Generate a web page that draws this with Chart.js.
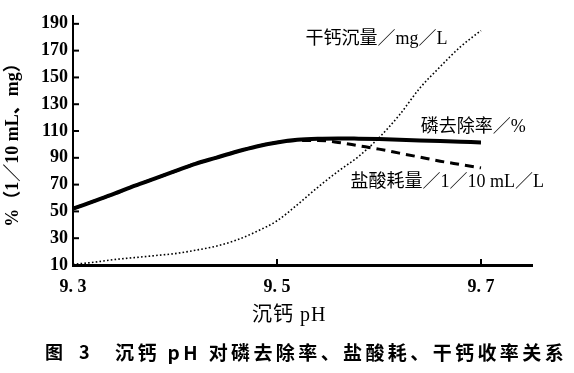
<!DOCTYPE html>
<html><head><meta charset="utf-8">
<script src="https://cdn.jsdelivr.net/npm/chart.js@4/dist/chart.umd.min.js"></script>
<style>
html,body{margin:0;padding:0;background:#fff;}
#wrap{position:relative;width:574px;height:373px;overflow:hidden;background:#fff;}
#c{position:absolute;left:0;top:0;}
.t{position:absolute;white-space:nowrap;color:#000;line-height:22px;}
#xt{left:252px;top:298px;font:20px 'Liberation Serif','Noto Sans CJK SC';letter-spacing:1px;}
#cap1{left:45px;top:338px;font:700 18px 'Noto Sans CJK SC';letter-spacing:6px;}
#cap2{left:115px;top:338px;font:700 19px 'Noto Sans CJK SC';letter-spacing:3.4px;}
</style></head><body>
<div id="wrap">
<canvas id="c" width="574" height="373"></canvas>
<div class="t" id="xt">沉钙 pH</div>
<div class="t" id="cap1">图 3</div>
<div class="t" id="cap2">沉钙 pH 对磷去除率、盐酸耗、干钙收率关系</div>
</div>
<script>
// ---- data ----
const phValues      = [9.30,9.32,9.34,9.36,9.38,9.40,9.42,9.44,9.46,9.48,9.50,9.52,9.54,9.56,9.58,9.60,9.62,9.64,9.66,9.68,9.70];
const removalRate   = [52,57.5,63,69,74.5,80,85.5,90,94.5,98.5,101.5,103.5,104.3,104.5,104.3,104,103.5,103,102.5,102,101.5];
const hclUse        = [52,57.5,63,69,74.5,80,85.5,90,94.5,98.5,101.5,103,103,101.5,99,96.5,93.5,90.5,87.5,85,82.5];
const calciumYield  = [10.5,12,14,15.5,17,18.5,21,24,28.5,35,43,55,68,80,91,105,122,142,158,173,185];
const xTickValues   = [9.3,9.5,9.7];
const xTickLabels   = ['9. 3','9. 5','9. 7'];
const yTickValues   = [10,30,50,70,90,110,130,150,170,190];
const seriesNames   = ['磷去除率／%','盐酸耗量／1／10 mL／L','干钙沉量／mg／L'];
const yAxisTitle    = '%（1／10 mL、mg）';

// label anchors (data coordinates) for the in-plot series names
const labelAnchors = [
  {text: seriesNames[0], x: 9.641, y: 112.5},
  {text: seriesNames[1], x: 9.572, y: 71.5},
  {text: seriesNames[2], x: 9.528, y: 178.5}
];

const pts = arr => phValues.map((x,i)=>({x, y: arr[i]}));

const decor = {
  id:'decor',
  afterDraw(chart){
    const {ctx, chartArea:a, scales:{x,y}} = chart;
    ctx.save();
    ctx.strokeStyle='#000'; ctx.lineWidth=2;
    y.ticks.forEach(t=>{
      if (t.value===y.min) return;
      const py=y.getPixelForValue(t.value);
      ctx.beginPath(); ctx.moveTo(a.left,py); ctx.lineTo(a.left+6,py); ctx.stroke();
    });
    x.ticks.forEach(t=>{
      if (t.value===x.min) return;
      const px=x.getPixelForValue(t.value);
      ctx.beginPath(); ctx.moveTo(px,a.bottom); ctx.lineTo(px,a.bottom-6); ctx.stroke();
    });
    ctx.fillStyle='#000';
    ctx.font="18px 'Liberation Serif','Noto Sans CJK SC'";
    ctx.textBaseline='middle'; ctx.textAlign='left';
    labelAnchors.forEach(l=>{
      ctx.fillText(l.text, x.getPixelForValue(l.x), y.getPixelForValue(l.y));
    });
    ctx.restore();
  }
};

new Chart(document.getElementById('c'), {
  type:'line',
  data:{
    datasets:[
      {label:seriesNames[0], data:pts(removalRate), borderColor:'#000', borderWidth:4, pointRadius:0, cubicInterpolationMode:'monotone', fill:false},
      {label:seriesNames[1], data:pts(hclUse), borderColor:'#000', borderWidth:3, borderDash:[9,6], pointRadius:0, cubicInterpolationMode:'monotone', fill:false},
      {label:seriesNames[2], data:pts(calciumYield), borderColor:'#000', borderWidth:1.6, borderDash:[1.6,2.2], pointRadius:0, cubicInterpolationMode:'monotone', fill:false}
    ]
  },
  options:{
    responsive:false, animation:false,
    layout:{padding:{left:0,right:42,top:13,bottom:36}},
    plugins:{legend:{display:false}, tooltip:{enabled:false}},
    scales:{
      x:{
        type:'linear', min:9.3, max:9.75,
        afterBuildTicks:s=>{ s.ticks = xTickValues.map(v=>({value:v})); },
        afterFit:s=>{ s.height = 72; },
        grid:{display:false, drawTicks:false},
        border:{display:true, color:'#000', width:3},
        ticks:{color:'#000', padding:12, font:{family:"'Liberation Serif'", size:18, weight:'bold'},
          callback:(v)=>{ const i = xTickValues.findIndex(t=>Math.abs(t-v)<1e-9); return i>=0 ? xTickLabels[i] : ''; },
          maxRotation:0, autoSkip:false}
      },
      y:{
        type:'linear', min:10, max:196,
        afterBuildTicks:s=>{ s.ticks = yTickValues.map(v=>({value:v})); },
        afterFit:s=>{ s.width = 73; },
        grid:{display:false, drawTicks:false},
        border:{display:true, color:'#000', width:2},
        ticks:{color:'#000', padding:5, font:{family:"'Liberation Serif'", size:18, weight:'bold'}, autoSkip:false},
        title:{display:true, text:yAxisTitle, color:'#000', padding:{top:3,bottom:0},
          font:{family:"'Liberation Serif','Noto Sans CJK SC'", size:18, weight:'bold'}}
      }
    }
  },
  plugins:[decor]
});
</script>
</body></html>
